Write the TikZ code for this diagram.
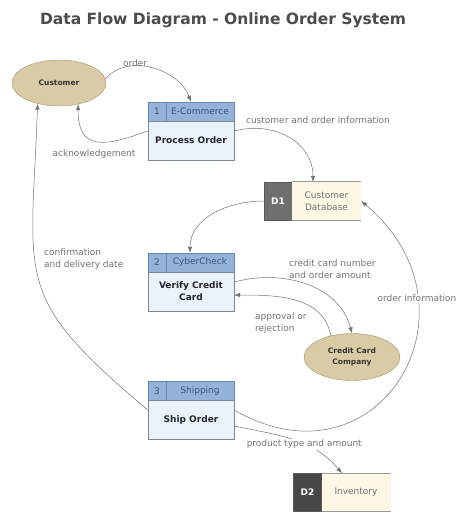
\documentclass[tikz,border=0pt]{standalone}
\usepackage{fontspec}
\setmainfont{DejaVu Sans}
\usepackage{xcolor}
\usetikzlibrary{arrows.meta,positioning,shapes.geometric}
\definecolor{headblue}{HTML}{95B3D9}
\definecolor{headline}{HTML}{6A86AE}
\definecolor{headtext}{HTML}{3A5680}
\definecolor{bodyblue}{HTML}{EAF3FB}
\definecolor{bodyline}{HTML}{7D8894}
\definecolor{tan}{HTML}{D9CBA6}
\definecolor{tanline}{HTML}{A39673}
\definecolor{storefill}{HTML}{FDF7E4}
\definecolor{storeone}{HTML}{707070}
\definecolor{storetwo}{HTML}{484848}

\begin{document}
\begin{tikzpicture}[x=1pt, y=-1pt,
    process/.style={rectangle, draw=bodyline, fill=bodyblue, minimum width=86pt,
                    minimum height=39pt, inner sep=1pt, align=center,
                    font=\fontsize{9}{12}\selectfont\bfseries, text=black!85},
    prochead/.style={rectangle, draw=headline, fill=headblue, minimum height=19pt,
                     inner sep=1pt, font=\fontsize{9}{10}\selectfont, text=headtext},
    entity/.style={ellipse, draw=tanline, fill=tan, inner sep=0pt, align=center,
                   font=\fontsize{7.5}{11.5}\selectfont\bfseries, text=black!80},
    storekey/.style={rectangle, draw=black!65, minimum width=28pt, minimum height=38pt,
                     inner sep=0pt, font=\fontsize{9}{10}\selectfont\bfseries, text=white},
    storename/.style={rectangle, fill=storefill, minimum width=69pt, minimum height=38pt,
                      inner sep=0pt, align=center, font=\fontsize{9}{12}\selectfont, text=black!55},
    storeline/.style={draw=black!40, line width=0.8pt},
    flow/.style={-{Latex[length=6pt,width=4.5pt]}, draw=black!55, line width=0.5pt},
    flowlabel/.style={font=\fontsize{9}{12}\selectfont, text=black!55, align=left, inner sep=1pt}
]
\path[use as bounding box, fill=white] (0,0) rectangle (474,520);

% Title
\node[font=\fontsize{15.5}{18}\selectfont\bfseries, text=black!70] (title) at (223,20)
    {Data Flow Diagram - Online Order System};

% External entities
\node[entity, minimum width=94pt, minimum height=46pt] (Cust) at (59,83) {Customer};
\node[entity, minimum width=96pt, minimum height=47pt] (CCC) at (352,357) {Credit Card\\Company};

% Processes
\node[prochead, minimum width=18pt] (P1n) at (157,111.5) {1};
\node[prochead, minimum width=68pt] (P1h) at (200,111.5) {E-Commerce};
\node[process] (P1) at (191,140.5) {Process Order};

\node[prochead, minimum width=18pt] (P2n) at (157,262.5) {2};
\node[prochead, minimum width=68pt] (P2h) at (200,262.5) {CyberCheck};
\node[process] (P2) at (191,291.5) {Verify Credit\\Card};

\node[prochead, minimum width=18pt] (P3n) at (157,391) {3};
\node[prochead, minimum width=68pt] (P3h) at (200,391) {Shipping};
\node[process] (P3) at (191,420) {Ship Order};

% Data stores
\node[storekey, fill=storeone] (D1) at (278,201) {D1};
\node[storename] (D1t) at (326.5,201) {Customer\\Database};
\draw[storeline] (D1.north east) -- (D1t.north east);
\draw[storeline] (D1.south east) -- (D1t.south east);

\node[storekey, fill=storetwo] (D2) at (307.5,492.5) {D2};
\node[storename] (D2t) at (356,492.5) {Inventory};
\draw[storeline] (D2.north east) -- (D2t.north east);
\draw[storeline] (D2.south east) -- (D2t.south east);

% Flows
\draw[flow] (Cust.5) to[out=50, in=110] ([xshift=-9pt]P1h.north);
\draw[flow] ([yshift=9.5pt]P1.west) to[out=200, in=-90, looseness=1.6] (Cust.-48);
\draw[flow] ([yshift=9.5pt]P1.east) to[out=15, in=90, looseness=1.1] ([xshift=-13.5pt]D1t.north);
\draw[flow] (D1.west) to[out=180, in=90] ([xshift=-10pt]P2h.north);
\draw[flow] ([yshift=9.5pt]P2.east) to[out=15, in=105] (CCC.north);
\draw[flow] (CCC.135) to[out=100, in=0] ([yshift=-3.5pt]P2.east);
\draw[flow] ([yshift=10pt]P3.west) to[out=140, in=-92, looseness=1.4] (Cust.-136);
\draw[flow] ([yshift=10pt]P3.east) to[out=-30, in=-40, looseness=1.75]
    node[flowlabel, fill=white, pos=0.73] {order information} (D1t.east);
\draw[flow] ([yshift=-6pt]P3.east) to[out=-12, in=130]
    node[flowlabel, fill=white, pos=0.6] {product type and amount} ([xshift=-14pt]D2t.north);

% Flow labels
\node[flowlabel] (lorder) at (135,63) {order};
\node[flowlabel] (lack) at (94,154) {acknowledgement};
\node[flowlabel] (lcust) at (318,120) {customer and order information};
\node[flowlabel, anchor=west] (lconf) at (43,259) {confirmation\\and delivery date};
\node[flowlabel, anchor=west] (lcard) at (288,269) {credit card number\\and order amount};
\node[flowlabel, anchor=west] (lappr) at (254,323) {approval or\\rejection};

\end{tikzpicture}
\end{document}
